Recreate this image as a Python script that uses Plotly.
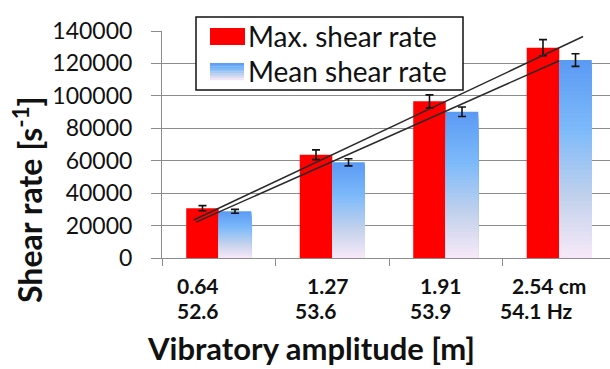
import numpy as np
import plotly.graph_objects as go
from plotly.colors import sample_colorscale

# ---------------- data ----------------
categories = [1, 2, 3, 4]
amplitude_labels = ["0.64", "1.27", "1.91", "2.54 cm"]
frequency_labels = ["52.6", "53.6", "53.9", "54.1 Hz"]
max_shear = [30700, 63700, 96600, 129700]
max_err = [1600, 3000, 4000, 5000]
mean_shear = [28800, 59000, 90200, 122100]
mean_err = [1200, 2200, 2900, 3900]
y_ticks = [0, 20000, 40000, 60000, 80000, 100000, 120000, 140000]
trend_max_x = [0.78, 4.21]
trend_mean_x = [0.80, 4.0]

# ---------------- layout constants ----------------
W, H = 610, 369
ML, MR, MT, MB = 162, 0, 31, 111
PW, PH = W - ML - MR, H - MT - MB
CAT_PX = 113.5
FONT = "Lato"
GRID = "#8c8c8c"

def px_x(px):
    return (px - ML) / PW

def px_y(py):
    return (H - MB - py) / PH

blue_scale = [[0.0, "#5a9af4"], [0.35, "#7dbafa"], [0.7, "#c3d2ec"], [1.0, "#f8e9f8"]]

fig = go.Figure()

# Max shear rate (red)
fig.add_trace(go.Bar(
    x=categories, y=max_shear, offsetgroup="max", name="Max. shear rate",
    marker=dict(color="#ff0000", line=dict(width=0)),
    error_y=dict(type="data", array=max_err, color="#111111", thickness=1.6, width=4),
    showlegend=False,
))

# Mean shear rate (vertical gradient via overlaid bars)
N = 45
mean_arr = np.array(mean_shear, dtype=float)
for k in range(N):
    frac = 1 - k / N
    col = sample_colorscale(blue_scale, [(k + 0.5) / N])[0]
    fig.add_trace(go.Bar(
        x=categories, y=mean_arr * frac, offsetgroup="mean",
        marker=dict(color=col, line=dict(width=0)),
        showlegend=False, hoverinfo="skip",
    ))
fig.add_trace(go.Bar(
    x=categories, y=mean_shear, offsetgroup="mean", name="Mean shear rate",
    marker=dict(color="rgba(0,0,0,0)", line=dict(width=0)),
    error_y=dict(type="data", array=mean_err, color="#111111", thickness=1.6, width=4),
    showlegend=False,
))

# Linear trend lines
for xs, ys in [(trend_max_x, max_shear), (trend_mean_x, mean_shear)]:
    slope, intercept = np.polyfit(categories, ys, 1)
    xx = np.array(xs)
    fig.add_trace(go.Scatter(
        x=xx, y=slope * xx + intercept, mode="lines",
        line=dict(color="#2a2a2a", width=1.5), showlegend=False, hoverinfo="skip",
    ))

annotations = []
# x tick labels (two rows)
row1_shift = [-43.75, -27.25, -27.75, -49.25]
row2_shift = [-43.75, -39.25, -37.75, -61.25]
for c, t1, t2, s1, s2 in zip(categories, amplitude_labels, frequency_labels, row1_shift, row2_shift):
    annotations.append(dict(x=c, xref="x", y=px_y(285), yref="paper", text=t1,
                            xanchor="left", yanchor="middle", xshift=s1, showarrow=False,
                            font=dict(family=FONT, size=21, color="#111", weight="bold")))
    annotations.append(dict(x=c, xref="x", y=px_y(310), yref="paper", text=t2,
                            xanchor="left", yanchor="middle", xshift=s2, showarrow=False,
                            font=dict(family=FONT, size=21, color="#111", weight="bold")))

# axis titles
annotations.append(dict(x=px_x(311), xref="paper", y=px_y(348), yref="paper",
                        text="Vibratory amplitude [m]", showarrow=False,
                        xanchor="center", yanchor="middle",
                        font=dict(family=FONT, size=31, color="#111", weight="bold")))
annotations.append(dict(x=px_x(28), xref="paper", y=px_y(200), yref="paper",
                        text="Shear rate [s<sup>-1</sup>]", showarrow=False, textangle=-90,
                        xanchor="center", yanchor="middle",
                        font=dict(family=FONT, size=32, color="#111", weight="bold")))

# legend (manual)
shapes = []
shapes.append(dict(type="rect", xref="paper", yref="paper",
                   x0=px_x(196), x1=px_x(463), y0=px_y(90), y1=px_y(17),
                   line=dict(color="#111", width=1.5), fillcolor="white", layer="above"))
shapes.append(dict(type="rect", xref="paper", yref="paper",
                   x0=px_x(210), x1=px_x(245), y0=px_y(45), y1=px_y(28),
                   line=dict(width=0), fillcolor="#ff0000", layer="above"))
M = 10
for k in range(M):
    top = 63 + 17 * k / M
    bot = 63 + 17 * (k + 1) / M
    col = sample_colorscale(blue_scale, [(k + 0.5) / M])[0]
    shapes.append(dict(type="rect", xref="paper", yref="paper",
                       x0=px_x(210), x1=px_x(244), y0=px_y(bot + 0.3), y1=px_y(top),
                       line=dict(width=0), fillcolor=col, layer="above"))
annotations.append(dict(x=px_x(246), xref="paper", y=px_y(36), yref="paper",
                        text="Max. shear rate", showarrow=False, xanchor="left", yanchor="middle",
                        font=dict(family=FONT, size=28, color="#111")))
annotations.append(dict(x=px_x(246), xref="paper", y=px_y(71), yref="paper",
                        text="Mean shear rate", showarrow=False, xanchor="left", yanchor="middle",
                        font=dict(family=FONT, size=28, color="#111")))

fig.update_layout(
    width=W, height=H,
    margin=dict(l=ML, r=MR, t=MT, b=MB),
    paper_bgcolor="white", plot_bgcolor="white",
    barmode="group", bargap=0.427, bargroupgap=0,
    showlegend=False,
    annotations=annotations, shapes=shapes,
    xaxis=dict(range=[0.5, 0.5 + PW / CAT_PX], tickvals=[0.5, 1.5, 2.5, 3.5, 4.5],
               showticklabels=False, ticks="outside", ticklen=7, tickcolor=GRID,
               showline=True, linecolor=GRID, linewidth=1, showgrid=False,
               zeroline=False),
    yaxis=dict(range=[0, 140000], tickvals=y_ticks, ticktext=[str(v) for v in y_ticks],
               ticks="outside", ticklen=10, tickcolor=GRID, ticklabelstandoff=14,
               showline=True, linecolor=GRID, linewidth=1,
               showgrid=True, gridcolor=GRID, gridwidth=1, zeroline=False,
               tickfont=dict(family=FONT, size=23, color="#111")),
)

fig.write_html("out.html", config={"displayModeBar": False},
               post_script="document.body.style.margin='0';document.body.style.overflow='hidden';")
